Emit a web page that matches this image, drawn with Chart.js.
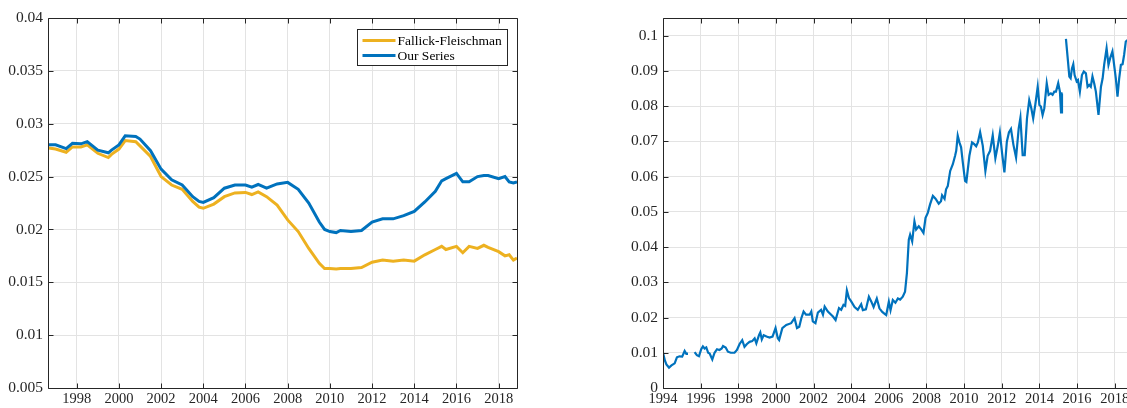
<!DOCTYPE html>
<html>
<head>
<meta charset="utf-8">
<script src="https://cdn.jsdelivr.net/npm/chart.js@4/dist/chart.umd.min.js"></script>
<style>
html, body { margin:0; padding:0; background:#fff; overflow:hidden; width:1127px; height:408px; }
#caja_izq { position:absolute; left:0; top:0; width:530px; height:408px; }
#caja_der { position:absolute; left:620px; top:0; width:520px; height:408px; }
</style>
</head>
<body>
<div id="caja_izq"><canvas id="chart_izq"></canvas></div>
<div id="caja_der"><canvas id="chart_der"></canvas></div>
<script>
// left panel data (year, rate)
var leftYears = [1996.67, 1997.0, 1997.5, 1997.8, 1998.2, 1998.5, 1999.0, 1999.5, 1999.65, 2000.0,
    2000.3, 2000.8, 2001.0, 2001.5, 2002.0, 2002.5, 2003.0, 2003.5, 2003.8, 2004.0,
    2004.5, 2005.0, 2005.5, 2006.0, 2006.3, 2006.6, 2007.0, 2007.5, 2008.0, 2008.5,
    2009.0, 2009.5, 2009.75, 2010.0, 2010.3, 2010.5, 2011.0, 2011.5, 2012.0, 2012.5,
    2013.0, 2013.5, 2014.0, 2014.5, 2015.0, 2015.3, 2015.5, 2016.0, 2016.3, 2016.6,
    2017.0, 2017.3, 2017.5, 2018.0, 2018.3, 2018.5, 2018.7, 2018.87];
var fallickFleischman = [0.0277, 0.0276, 0.0273, 0.0278, 0.0278, 0.0280, 0.0272, 0.0268, 0.0271, 0.0276,
    0.0284, 0.0283, 0.0279, 0.0269, 0.0250, 0.0242, 0.0238, 0.02265, 0.0221, 0.0220,
    0.0224, 0.0231, 0.02345, 0.0235, 0.0233, 0.02355, 0.0231, 0.0223, 0.0209, 0.0198,
    0.0182, 0.0168, 0.0163, 0.0163, 0.01625, 0.0163, 0.0163, 0.0164, 0.0169, 0.0171,
    0.0170, 0.0171, 0.0170, 0.0176, 0.0181, 0.0184, 0.0181, 0.0184, 0.0178, 0.0184,
    0.0182, 0.0185, 0.0183, 0.0179, 0.0175, 0.0176, 0.0171, 0.0173];
var ourSeries = [0.0280, 0.0280, 0.02765, 0.02815, 0.0281, 0.0283, 0.0275, 0.02725, 0.0275, 0.0280,
    0.02885, 0.0288, 0.02855, 0.02745, 0.0257, 0.0247, 0.0242, 0.0231, 0.02265, 0.02255,
    0.0230, 0.0239, 0.0242, 0.0242, 0.0240, 0.02425, 0.0239, 0.0243, 0.02445, 0.0238,
    0.0225, 0.0207, 0.0200, 0.0198, 0.0197, 0.0199, 0.0198, 0.0199, 0.0207, 0.0210,
    0.0210, 0.0213, 0.0217, 0.0226, 0.0236, 0.0246, 0.0248, 0.0253, 0.0245, 0.0245,
    0.0250, 0.0251, 0.0251, 0.0248, 0.0250, 0.0245, 0.0244, 0.0245];
var leftXTicks = [1998, 2000, 2002, 2004, 2006, 2008, 2010, 2012, 2014, 2016, 2018];
var leftYTicks = [0.005, 0.01, 0.015, 0.02, 0.025, 0.03, 0.035, 0.04];
var leftYLabels = ['0.005', '0.01', '0.015', '0.02', '0.025', '0.03', '0.035', '0.04'];

// right panel data (null = gap)
var rightYears = [1994.0, 1994.1, 1994.18, 1994.32, 1994.45, 1994.62, 1994.74, 1994.88, 1995.02, 1995.15,
    1995.24, 1995.27, 1995.5, 1995.68, 1995.8, 1995.91, 1996.03, 1996.12, 1996.21, 1996.3,
    1996.4, 1996.48, 1996.62, 1996.74, 1996.87, 1997.0, 1997.12, 1997.19, 1997.33, 1997.45,
    1997.6, 1997.8, 1997.93, 1998.07, 1998.21, 1998.33, 1998.46, 1998.6, 1998.74, 1998.87,
    1998.96, 1999.1, 1999.17, 1999.25, 1999.35, 1999.5, 1999.66, 1999.82, 1999.98, 2000.1,
    2000.17, 2000.34, 2000.55, 2000.81, 2000.99, 2001.12, 2001.24, 2001.35, 2001.47, 2001.6,
    2001.79, 2001.88, 2001.96, 2002.1, 2002.23, 2002.4, 2002.5, 2002.59, 2002.76, 2003.03,
    2003.17, 2003.35, 2003.47, 2003.59, 2003.68, 2003.77, 2003.88, 2004.0, 2004.18, 2004.35,
    2004.53, 2004.62, 2004.78, 2004.94, 2005.07, 2005.19, 2005.36, 2005.5, 2005.65, 2005.76,
    2005.86, 2006.0, 2006.09, 2006.21, 2006.35, 2006.48, 2006.6, 2006.74, 2006.86, 2006.96,
    2007.06, 2007.13, 2007.24, 2007.36, 2007.45, 2007.59, 2007.72, 2007.84, 2007.95, 2008.07,
    2008.19, 2008.34, 2008.48, 2008.65, 2008.77, 2008.83, 2008.96, 2009.04, 2009.13, 2009.26,
    2009.4, 2009.52, 2009.58, 2009.66, 2009.75, 2009.84, 2009.93, 2010.05, 2010.12, 2010.28,
    2010.42, 2010.54, 2010.64, 2010.73, 2010.85, 2010.99, 2011.13, 2011.25, 2011.38, 2011.52,
    2011.66, 2011.79, 2011.9, 2012.02, 2012.14, 2012.27, 2012.38, 2012.49, 2012.62, 2012.76,
    2012.9, 2012.99, 2013.11, 2013.22, 2013.34, 2013.46, 2013.57, 2013.67, 2013.78, 2013.91,
    2014.0, 2014.08, 2014.17, 2014.26, 2014.39, 2014.49, 2014.61, 2014.7, 2014.79, 2014.88,
    2015.0, 2015.09, 2015.15, 2015.2, 2015.23, 2015.32, 2015.41, 2015.52, 2015.59, 2015.66,
    2015.73, 2015.8, 2015.87, 2015.98, 2016.05, 2016.15, 2016.26, 2016.36, 2016.47, 2016.56,
    2016.65, 2016.73, 2016.82, 2016.91, 2017.0, 2017.14, 2017.27, 2017.36, 2017.44, 2017.57,
    2017.67, 2017.76, 2017.88, 2017.97, 2018.06, 2018.15, 2018.24, 2018.33, 2018.42, 2018.5,
    2018.59, 2018.7];
var rightValues = [0.0100, 0.0078, 0.0067, 0.0058, 0.0064, 0.0070, 0.0087, 0.0090, 0.0089, 0.0105,
    0.0097, 0.0101, null, 0.0102, 0.0093, 0.0090, 0.0110, 0.0118, 0.0112, 0.0115,
    0.0100, 0.0098, 0.0081, 0.0100, 0.0110, 0.0108, 0.0112, 0.0119, 0.0115, 0.0103,
    0.0100, 0.0100, 0.0108, 0.0125, 0.0136, 0.0117, 0.0125, 0.0131, 0.0133, 0.0141,
    0.0127, 0.0150, 0.0158, 0.0138, 0.0150, 0.0146, 0.0143, 0.0146, 0.0170, 0.0141,
    0.0136, 0.0170, 0.0179, 0.0184, 0.0198, 0.0170, 0.0174, 0.0198, 0.0217, 0.0208,
    0.0208, 0.0217, 0.0189, 0.0184, 0.0214, 0.0222, 0.0208, 0.0231, 0.0217, 0.0203,
    0.0193, 0.0227, 0.0222, 0.0236, 0.0233, 0.0277, 0.0255, 0.0246, 0.0230, 0.0222,
    0.0238, 0.0221, 0.0223, 0.0259, 0.0245, 0.0230, 0.0254, 0.0226, 0.0216, 0.0211,
    0.0207, 0.0245, 0.0221, 0.0250, 0.0242, 0.0254, 0.0251, 0.0259, 0.0273, 0.0326,
    0.0421, 0.0435, 0.0416, 0.0473, 0.0450, 0.0459, 0.0450, 0.0440, 0.0483, 0.0497,
    0.0521, 0.0545, 0.0537, 0.0523, 0.0530, 0.0547, 0.0537, 0.0564, 0.0573, 0.0616,
    0.0635, 0.0659, 0.0673, 0.0716, 0.0697, 0.0683, 0.0640, 0.0588, 0.0585, 0.0659,
    0.0697, 0.0692, 0.0686, 0.0697, 0.0726, 0.0688, 0.0616, 0.0659, 0.0673, 0.0717,
    0.0652, 0.0688, 0.0725, 0.0665, 0.0612, 0.0699, 0.0725, 0.0735, 0.0690, 0.0654,
    0.0737, 0.0767, 0.0661, 0.0661, 0.0765, 0.0817, 0.0794, 0.0765, 0.0803, 0.0855,
    0.0803, 0.0799, 0.0775, 0.0794, 0.0865, 0.0832, 0.0836, 0.0832, 0.0841, 0.0841,
    0.0865, 0.0841, 0.0782, 0.0836, 0.0836, null, 0.0991, 0.0926, 0.0884, 0.0879,
    0.0907, 0.0919, 0.0888, 0.0870, 0.0874, 0.0841, 0.0888, 0.0898, 0.0893, 0.0855,
    0.0860, 0.0855, 0.0884, 0.0865, 0.0841, 0.0775, 0.0855, 0.0879, 0.0917, 0.0964,
    0.0917, 0.0936, 0.0955, 0.0917, 0.0879, 0.0827, 0.0879, 0.0917, 0.0919, 0.0945,
    0.0983, 0.0988];
var rightXTicks = [1994, 1996, 1998, 2000, 2002, 2004, 2006, 2008, 2010, 2012, 2014, 2016, 2018];
var rightYTicks = [0, 0.01, 0.02, 0.03, 0.04, 0.05, 0.06, 0.07, 0.08, 0.09, 0.1];
var rightYLabels = ['0', '0.01', '0.02', '0.03', '0.04', '0.05', '0.06', '0.07', '0.08', '0.09', '0.1'];

var azul = '#0072BD';
var amarillo = '#EDB120';
var fuente = 'Liberation Serif';

function juntar(xs, ys) {
    var out = [];
    for (var i = 0; i < xs.length; i++) {
        out.push({x: xs[i], y: ys[i]});
    }
    return out;
}

// axes box + inward ticks, matlab style
var marcoPlugin = {
    id: 'marco',
    afterDatasetsDraw: function (chart) {
        var ctx = chart.ctx, a = chart.chartArea;
        var sx = chart.scales.x, sy = chart.scales.y;
        var l = Math.round(a.left) + 0.5, r = Math.round(a.right) + 0.5;
        var t = Math.round(a.top) + 0.5, b = Math.round(a.bottom) + 0.5;
        ctx.save();
        ctx.strokeStyle = '#262626';
        ctx.lineWidth = 1;
        ctx.beginPath();
        ctx.rect(l, t, r - l, b - t);
        sx.ticks.forEach(function (tk) {
            var px = Math.round(sx.getPixelForValue(tk.value)) + 0.5;
            ctx.moveTo(px, b); ctx.lineTo(px, b - 5);
            ctx.moveTo(px, t); ctx.lineTo(px, t + 5);
        });
        sy.ticks.forEach(function (tk) {
            var py = Math.round(sy.getPixelForValue(tk.value)) + 0.5;
            ctx.moveTo(l, py); ctx.lineTo(l + 5, py);
            ctx.moveTo(r, py); ctx.lineTo(r - 5, py);
        });
        ctx.stroke();
        ctx.restore();
    }
};

// legend box inside top-right corner
var leyendaPlugin = {
    id: 'leyenda',
    afterDraw: function (chart) {
        if (!chart.options.plugins.leyenda || !chart.options.plugins.leyenda.show) return;
        var ctx = chart.ctx, a = chart.chartArea;
        var w = 150, h = 36;
        var x0 = Math.round(a.right - 10 - w) + 0.5, y0 = Math.round(a.top + 11) + 0.5;
        ctx.save();
        ctx.fillStyle = '#fff';
        ctx.fillRect(x0, y0, w, h);
        ctx.strokeStyle = '#262626';
        ctx.lineWidth = 1;
        ctx.strokeRect(x0, y0, w, h);
        ctx.font = '13.5px "' + fuente + '"';
        ctx.textBaseline = 'middle';
        chart.data.datasets.forEach(function (ds, i) {
            var yy = y0 + 11 + i * 15;
            ctx.strokeStyle = ds.borderColor;
            ctx.lineWidth = 3;
            ctx.beginPath();
            ctx.moveTo(x0 + 5, yy);
            ctx.lineTo(x0 + 38, yy);
            ctx.stroke();
            ctx.fillStyle = '#000';
            ctx.fillText(ds.label, x0 + 40, yy + 0.5);
        });
        ctx.restore();
    }
};

function opciones(xmin, xmax, ymin, ymax, xticks, yticks, ylabels, yWidth, pad, conLeyenda) {
    return {
        responsive: true,
        maintainAspectRatio: false,
        animation: false,
        layout: { padding: pad },
        plugins: {
            legend: { display: false },
            tooltip: { enabled: false },
            leyenda: { show: conLeyenda }
        },
        elements: { point: { radius: 0 }, line: { tension: 0 } },
        scales: {
            x: {
                type: 'linear', min: xmin, max: xmax,
                afterBuildTicks: function (s) { s.ticks = xticks.map(function (v) { return {value: v}; }); },
                afterFit: function (s) { s.height = 20; },
                grid: { color: '#e3e3e3', drawTicks: false },
                border: { display: false },
                ticks: {
                    padding: 2, maxRotation: 0, autoSkip: false,
                    color: '#262626', font: { family: fuente, size: 14.5 },
                    callback: function (v) { return String(v); }
                }
            },
            y: {
                type: 'linear', min: ymin, max: ymax,
                afterBuildTicks: function (s) { s.ticks = yticks.map(function (v) { return {value: v}; }); },
                afterFit: function (s) { s.width = yWidth; },
                grid: { color: '#e3e3e3', drawTicks: false },
                border: { display: false },
                ticks: {
                    padding: 5, autoSkip: false,
                    color: '#262626', font: { family: fuente, size: 15.5 },
                    callback: function (v, i) { return ylabels[i]; }
                }
            }
        }
    };
}

var chartIzq = new Chart(document.getElementById('chart_izq'), {
    type: 'line',
    data: {
        datasets: [
            { label: 'Fallick-Fleischman', data: juntar(leftYears, fallickFleischman),
              borderColor: amarillo, borderWidth: 3, order: 1 },
            { label: 'Our Series', data: juntar(leftYears, ourSeries),
              borderColor: azul, borderWidth: 3, order: 0 }
        ]
    },
    options: opciones(1996.64, 2018.87, 0.005, 0.04, leftXTicks, leftYTicks, leftYLabels, 48,
        { top: 18, right: 13, left: 0, bottom: 0 }, true),
    plugins: [marcoPlugin, leyendaPlugin]
});

var chartDer = new Chart(document.getElementById('chart_der'), {
    type: 'line',
    data: {
        datasets: [
            { label: 'Series', data: juntar(rightYears, rightValues),
              borderColor: azul, borderWidth: 2.2, spanGaps: false }
        ]
    },
    options: opciones(1994, 2018.92, 0, 0.105, rightXTicks, rightYTicks, rightYLabels, 43,
        { top: 18, right: 8, left: 0, bottom: 0 }, false),
    plugins: [marcoPlugin, leyendaPlugin]
});
</script>
</body>
</html>
